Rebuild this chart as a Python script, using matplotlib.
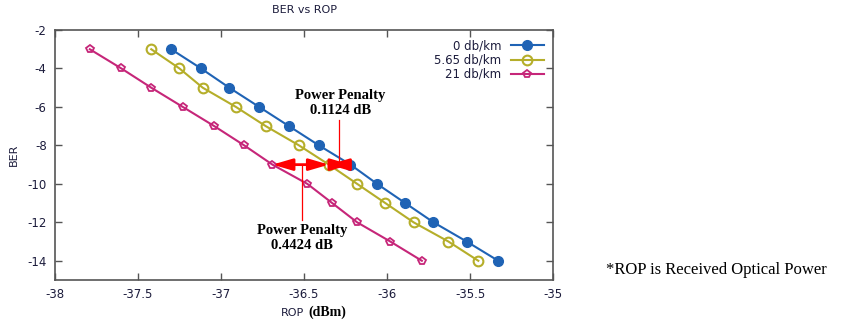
import matplotlib.pyplot as plt

plt.rcParams['axes.unicode_minus'] = False

# dados
ber = [-3, -4, -5, -6, -7, -8, -9, -10, -11, -12, -13, -14]
rop_0 = [-37.30, -37.12, -36.95, -36.77, -36.59, -36.41, -36.22, -36.06, -35.89, -35.72, -35.52, -35.33]
rop_565 = [-37.42, -37.25, -37.11, -36.91, -36.73, -36.53, -36.35, -36.18, -36.01, -35.84, -35.63, -35.45]
rop_21 = [-37.79, -37.60, -37.42, -37.23, -37.04, -36.86, -36.69, -36.48, -36.33, -36.18, -35.98, -35.79]
rotulos = ['0 db/km', '5.65 db/km', '21 db/km']
xticks = [-38, -37.5, -37, -36.5, -36, -35.5, -35]
yticks = [-2, -4, -6, -8, -10, -12, -14]

cor_azul = '#1f63b5'
cor_amarelo = '#b5ae2a'
cor_magenta = '#c62679'
cor_txt = '#1c1c3c'
serif = 'Liberation Serif'

fig = plt.figure(figsize=(8.59, 3.27), dpi=100)
ax = fig.add_axes([0.064, 0.1437, 0.5798, 0.7645])

ax.plot(rop_0, ber, '-o', color=cor_azul, lw=1.5, ms=7, label=rotulos[0])
ax.plot(rop_565, ber, '-o', color=cor_amarelo, lw=1.5, ms=7, mfc='none', mew=1.5, label=rotulos[1])
ax.plot(rop_21, ber, '-p', color=cor_magenta, lw=1.5, ms=6, mfc='none', mew=1.3, label=rotulos[2])

# setas de penalidade de potencia
y_pp = ber[6]
seta = dict(arrowstyle='<|-|>,head_length=0.75,head_width=0.22', color='red', lw=2,
            mutation_scale=16, shrinkA=0, shrinkB=0)
ax.annotate('', xy=(rop_21[6], y_pp), xytext=(rop_565[6], y_pp), arrowprops=seta)
ax.annotate('', xy=(rop_565[6], y_pp), xytext=(rop_0[6], y_pp), arrowprops=seta)

# linhas de indicacao
ax.plot([-36.29, -36.29], [-6.7, -9], color='red', lw=0.9)
ax.plot([-36.51, -36.51], [-9, -11.9], color='red', lw=0.9)
ax.text(-36.28, -6.5, 'Power Penalty\n0.1124 dB', ha='center', va='bottom', fontsize=10.5,
        fontweight='bold', family=serif, linespacing=1.15)
ax.text(-36.51, -12.1, 'Power Penalty\n0.4424 dB', ha='center', va='top', fontsize=10.5,
        fontweight='bold', family=serif, linespacing=1.15)

ax.set_xlim(-38, -35)
ax.set_ylim(-15, -2)
ax.set_xticks(xticks)
ax.set_xticklabels([f'{v:g}' for v in xticks])
ax.set_yticks(yticks)
ax.tick_params(direction='in', top=True, right=True, length=5, width=1, colors='#555555',
               labelsize=8.5, labelcolor=cor_txt, pad=6)
for s in ax.spines.values():
    s.set_color('#555555')
    s.set_linewidth(1.2)

ax.set_title('BER vs ROP', fontsize=8, color=cor_txt, pad=12)
ax.set_ylabel('BER', fontsize=8, color=cor_txt, labelpad=6)
fig.text(0.3545, 0.035, 'ROP', fontsize=8, color=cor_txt, ha='right', va='baseline')
fig.text(0.3585, 0.035, '(dBm)', fontsize=10, fontweight='bold', family=serif, ha='left', va='baseline')

leg = ax.legend(loc='upper right', frameon=False, markerfirst=False, fontsize=8.5,
                handlelength=2.8, labelspacing=0.1, borderaxespad=0.4)
for t in leg.get_texts():
    t.set_color(cor_txt)
    t.set_ha('right')

fig.text(0.705, 0.175, '*ROP is Received Optical Power', fontsize=12, family=serif, va='center')

fig.savefig('out.png', dpi=100)
